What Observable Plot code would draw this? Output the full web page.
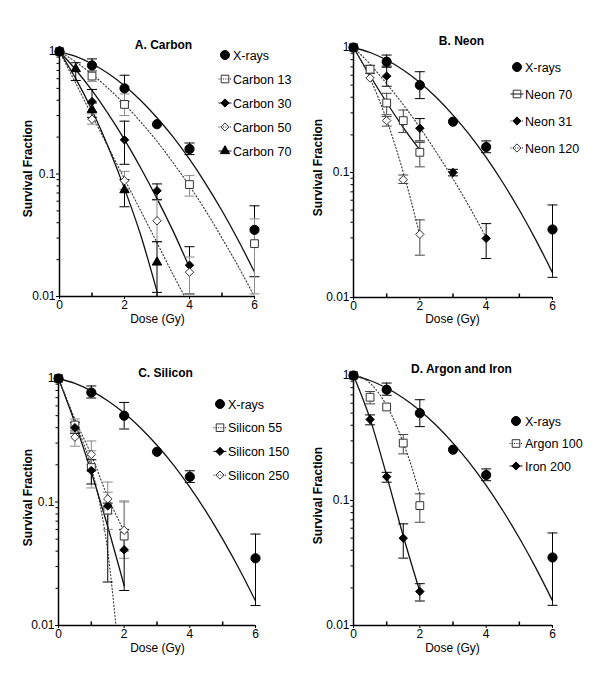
<!DOCTYPE html>
<html><head><meta charset="utf-8">
<script src="https://cdn.jsdelivr.net/npm/d3@7"></script>
<script src="https://cdn.jsdelivr.net/npm/@observablehq/plot@0.6"></script>
<style>
body{margin:0;background:#fff;font-family:Arial,"Liberation Sans",sans-serif;}
#wrap{position:relative;width:600px;height:673px;background:#fff;}
.panel{position:absolute;}
</style></head><body><div id="wrap"></div>
<script>
// ---------- shared tick labels ----------
const yTicks = [1, 0.1, 0.01];
const yTickLabels = ["1", "0.1", "0.01"];
const yMinorTicks = [0.02,0.03,0.04,0.05,0.06,0.07,0.08,0.09,0.2,0.3,0.4,0.5,0.6,0.7,0.8,0.9];
const xTicks = [0, 2, 4, 6];
const xMinorTicks = [1, 3, 5];

// ---------- X-rays (all panels) ----------
const xrayDose = [0, 1, 2, 3, 4, 6];
const xraySF   = [1, 0.77, 0.50, 0.255, 0.16, 0.035];
const xrayHi   = [null, 0.87, 0.64, null, 0.179, 0.055];
const xrayLo   = [null, 0.695, 0.39, null, 0.144, 0.0145];
const xrayFitDose = [0,0.5,1,1.5,2,2.5,3,3.5,4,4.5,5,5.5,6];
const xrayFitSF   = [1,0.912,0.794,0.661,0.525,0.398,0.288,0.20,0.132,0.0832,0.0501,0.0288,0.0158];

// ---------- A. Carbon ----------
const c13Dose = [0, 1, 2, 4, 6];
const c13SF   = [1, 0.63, 0.37, 0.082, 0.027];
const c13Hi   = [null, 0.70, 0.45, 0.097, 0.043];
const c13Lo   = [null, 0.57, 0.30, 0.066, 0.0105];
const c13FitDose = [0,0.5,1,1.5,2,2.5,3,3.5,4,4.5,5,5.5,6];
const c13FitSF   = [1,0.822,0.652,0.50,0.372,0.266,0.185,0.123,0.080,0.050,0.030,0.0176,0.01];

const c30Dose = [0, 1, 2, 3, 4];
const c30SF   = [1, 0.39, 0.19, 0.073, 0.018];
const c30Hi   = [null, 0.49, 0.27, 0.083, 0.0255];
const c30Lo   = [null, 0.32, 0.12, 0.062, 0.0105];
const c30FitDose = [0,0.5,1,1.5,2,2.5,3,3.5,4];
const c30FitSF   = [1,0.71,0.481,0.31,0.191,0.112,0.063,0.034,0.0172];

const c50Dose = [0, 1, 2, 3, 4];
const c50SF   = [1, 0.28, 0.088, 0.0415, 0.0158];
const c50Hi   = [null, 0.31, 0.105, 0.061, 0.021];
const c50Lo   = [null, 0.255, 0.075, 0.028, 0.0105];
const c50FitDose = [0,0.5,1,1.5,2,2.5,3,3.5,3.85];
const c50FitSF   = [1,0.55,0.30,0.166,0.091,0.050,0.0275,0.015,0.01];

const c70Dose = [0, 0.5, 1, 2, 3];
const c70SF   = [1, 0.72, 0.335, 0.074, 0.019];
const c70Hi   = [null, 0.81, 0.38, 0.09, 0.028];
const c70Lo   = [null, 0.58, 0.29, 0.054, 0.0108];
const c70FitDose = [0,0.5,1,1.5,2,2.5,3];
const c70FitSF   = [1,0.60,0.331,0.166,0.076,0.0316,0.011];

// ---------- B. Neon ----------
const n70Dose = [0, 0.5, 1, 1.5, 2];
const n70SF   = [1, 0.67, 0.36, 0.26, 0.145];
const n70Hi   = [null, 0.72, 0.43, 0.316, 0.174];
const n70Lo   = [null, 0.62, 0.29, 0.209, 0.111];
const n70FitDose = [0,0.5,1,1.5,2];
const n70FitSF   = [1,0.594,0.363,0.229,0.152];

const n31Dose = [0, 1, 2, 3, 4];
const n31SF   = [1, 0.59, 0.226, 0.10, 0.0297];
const n31Hi   = [null, 0.71, 0.27, 0.106, 0.039];
const n31Lo   = [null, 0.49, 0.179, 0.094, 0.0205];
const n31FitDose = [0,0.5,1,1.5,2,2.5,3,3.5,4];
const n31FitSF   = [1,0.735,0.513,0.349,0.229,0.145,0.089,0.0528,0.0302];

const n120Dose = [0, 0.5, 1, 1.5, 2];
const n120SF   = [1, 0.57, 0.26, 0.0875, 0.032];
const n120Hi   = [null, null, 0.28, 0.0955, 0.0418];
const n120Lo   = [null, null, 0.235, 0.0817, 0.0218];
const n120FitDose = [0,0.5,1,1.5,2];
const n120FitSF   = [1,0.566,0.263,0.1006,0.0316];

// ---------- C. Silicon ----------
const si55Dose = [0, 0.5, 1, 1.5, 2];
const si55SF   = [1, 0.42, 0.19, 0.086, 0.053];
const si55Hi   = [null, 0.47, 0.26, 0.12, 0.10];
const si55Lo   = [null, 0.37, 0.13, 0.06, 0.035];
const si55FitDose = [0,0.5,1,1.25,1.5,1.75];
const si55FitSF   = [1,0.45,0.19,0.10,0.04,0.01];

const si150Dose = [0, 0.5, 1, 1.5, 2];
const si150SF   = [1, 0.40, 0.18, 0.093, 0.041];
const si150Hi   = [null, 0.44, 0.22, 0.098, 0.06];
const si150Lo   = [null, 0.36, 0.14, 0.0225, 0.0192];
const si150FitDose = [0,0.5,1,1.5,2];
const si150FitSF   = [1,0.437,0.174,0.063,0.021];

const si250Dose = [0, 0.5, 1, 1.5, 2];
const si250SF   = [1, 0.335, 0.243, 0.106, 0.059];
const si250Hi   = [null, 0.38, 0.312, 0.145, 0.102];
const si250Lo   = [null, 0.283, 0.20, 0.08, 0.04];
const si250FitDose = [0,0.5,1,1.5,2];
const si250FitSF   = [1,0.47,0.24,0.11,0.058];

// ---------- D. Argon and Iron ----------
const ar100Dose = [0, 0.5, 1, 1.5, 2];
const ar100SF   = [1, 0.67, 0.56, 0.288, 0.091];
const ar100Hi   = [null, 0.745, null, 0.337, 0.113];
const ar100Lo   = [null, 0.593, null, 0.236, 0.067];
const ar100FitDose = [0,0.25,0.5,0.75,1,1.25,1.5,1.75,2];
const ar100FitSF   = [1,0.964,0.87,0.73,0.575,0.423,0.29,0.187,0.112];

const fe200Dose = [0, 0.5, 1, 1.5, 2];
const fe200SF   = [1, 0.445, 0.155, 0.05, 0.0187];
const fe200Hi   = [null, 0.484, 0.168, 0.065, 0.0216];
const fe200Lo   = [null, 0.403, 0.14, 0.0346, 0.0157];
const fe200FitDose = [0,0.5,1,1.5,2];
const fe200FitSF   = [1,0.45,0.158,0.052,0.0187];

// ---------- labels ----------
const panelTitles = ["A. Carbon", "B. Neon", "C. Silicon", "D. Argon and Iron"];
const legendA = ["X-rays", "Carbon 13", "Carbon 30", "Carbon 50", "Carbon 70"];
const legendB = ["X-rays", "Neon 70", "Neon 31", "Neon 120"];
const legendC = ["X-rays", "Silicon 55", "Silicon 150", "Silicon 250"];
const legendD = ["X-rays", "Argon 100", "Iron 200"];
const xLabel = "Dose (Gy)";
const yLabel = "Survival Fraction";

// ---------- drawing ----------
const FONT = "Arial, 'Liberation Sans', sans-serif";
const hline = {draw(ctx, size){const r = Math.sqrt(size/Math.PI); ctx.moveTo(-r,0); ctx.lineTo(r,0);}};
const vline = {draw(ctx, size){const r = Math.sqrt(size/Math.PI); ctx.moveTo(0,-r); ctx.lineTo(0,r);}};
const SYM = {circle: d3.symbolCircle, square: d3.symbolSquare, diamond2: d3.symbolDiamond2, triangle: d3.symbolTriangle};
const GRAY = "#8a8a8a";

function S(name, dose, sf, hi, lo, fitDose, fitSF, o) {
  return Object.assign({name, dose, sf, hi, lo, fitDose, fitSF}, o);
}

function buildPanel(cfg) {
  const {ml, mr, mt, mb} = cfg;
  const W = 300, H = 330;
  const marks = [];
  // fitted curves
  for (const s of cfg.series) {
    const rows = s.fitDose.map((d, i) => ({d, s: s.fitSF[i]}));
    marks.push(Plot.line(rows, {x: "d", y: "s", curve: "monotone-x", stroke: s.dotted ? "#333" : "#111",
      strokeWidth: s.dotted ? 1.1 : 1.3, strokeDasharray: s.dotted ? "1.2,2.2" : null}));
  }
  // axis lines
  marks.push(Plot.ruleX([0], {stroke: "black", strokeWidth: 1.5}));
  marks.push(Plot.ruleY([0.01], {stroke: "black", strokeWidth: 1.5}));
  // error bars
  for (const s of cfg.series) {
    const rows = s.dose.map((d, i) => ({d, hi: s.hi[i], lo: s.lo[i]})).filter(r => r.hi != null);
    const caps = rows.flatMap(r => [{d: r.d, v: r.hi}, {d: r.d, v: r.lo}]);
    marks.push(Plot.ruleX(rows, {x: "d", y1: "lo", y2: "hi", stroke: s.err, strokeWidth: 1}));
    marks.push(Plot.dot(caps, {x: "d", y: "v", symbol: hline, r: 5, stroke: s.err, fill: "none", strokeWidth: 1}));
  }
  // points (X-rays drawn last so the filled circle sits on top at dose 0)
  for (const s of [...cfg.series.slice(1), cfg.series[0]]) {
    const rows = s.dose.map((d, i) => ({d, v: s.sf[i]}));
    marks.push(Plot.dot(rows, {x: "d", y: "v", symbol: s.symbol, r: s.r,
      fill: s.filled ? "black" : "white", stroke: s.filled ? "black" : "#333", strokeWidth: 1}));
  }
  // axes
  marks.push(Plot.axisY(yTicks, {tickSize: 3, tickPadding: 1, fontSize: 12, label: null,
    tickFormat: d => yTickLabels[yTicks.indexOf(d)]}));
  marks.push(Plot.axisY(yMinorTicks, {tickSize: 2.5, tickFormat: () => "", label: null}));
  marks.push(Plot.axisX(xTicks, {tickSize: 3, tickPadding: 1, fontSize: 12, label: null}));
  marks.push(Plot.dot(xMinorTicks, {x: d => d, frameAnchor: "bottom", symbol: vline, r: 2, dy: -2, stroke: "black"}));
  // texts
  marks.push(Plot.text([cfg.title], {text: d => d, frameAnchor: "top-left", dx: cfg.titleX - ml, dy: cfg.titleY - mt,
    textAnchor: "middle", lineAnchor: "middle", fontWeight: "bold", fontSize: 12}));
  marks.push(Plot.text([yLabel], {text: d => d, frameAnchor: "top-left", dx: cfg.ylabX - ml, dy: cfg.ylabY - mt,
    rotate: -90, textAnchor: "middle", lineAnchor: "middle", fontWeight: "bold", fontSize: 12}));
  marks.push(Plot.text([xLabel], {text: d => d, frameAnchor: "top-left", dx: cfg.xlabX - ml, dy: cfg.xlabY - mt,
    textAnchor: "middle", lineAnchor: "middle", fontSize: 12}));

  const svg = Plot.plot({
    width: W, height: H, marginLeft: ml, marginRight: mr, marginTop: mt, marginBottom: mb,
    x: {domain: [0, 6]},
    y: {type: "log", domain: [0.01, 1]},
    style: {fontFamily: FONT, fontSize: "12px", color: "black", background: "white", overflow: "visible"},
    marks
  });

  // legend
  const g = d3.select(svg).append("g");
  cfg.series.forEach((s, i) => {
    const y = cfg.legY + i * cfg.legGap;
    const mx = cfg.legMX;
    if (s.legendLine) {
      g.append("line").attr("x1", mx - 6.5).attr("x2", mx + 6.5).attr("y1", y).attr("y2", y)
        .attr("stroke", "#111").attr("stroke-width", 1).attr("stroke-dasharray", s.dotted ? "1,1.3" : null);
    }
    g.append("path").attr("transform", `translate(${mx},${y})`)
      .attr("d", d3.symbol(SYM[s.symbol], Math.PI * s.r * s.r * 0.95)())
      .attr("fill", s.filled ? "black" : (s.legendLine ? "none" : "white"))
      .attr("stroke", s.filled ? "black" : "#333").attr("stroke-width", 1);
    g.append("text").attr("x", cfg.legTX).attr("y", y).attr("dy", "0.36em")
      .attr("text-anchor", "start")
      .attr("font-size", 12.5).attr("font-family", FONT).attr("fill", "black").text(s.name);
  });

  const div = document.createElement("div");
  div.className = "panel";
  div.style.left = cfg.left + "px";
  div.style.top = cfg.top + "px";
  div.appendChild(svg);
  document.getElementById("wrap").appendChild(div);
}

const xray = (lbl) => S(lbl, xrayDose, xraySF, xrayHi, xrayLo, xrayFitDose, xrayFitSF,
  {symbol: "circle", r: 4.6, filled: true, err: "black", dotted: false, legendLine: false});

buildPanel({
  left: 0, top: 0, ml: 59, mr: 46, mt: 51, mb: 34, title: panelTitles[0],
  titleX: 163, titleY: 45, ylabX: 28, ylabY: 168, xlabX: 157, xlabY: 319,
  legMX: 225, legTX: 233, legY: 55, legGap: 24,
  series: [
    xray(legendA[0]),
    S(legendA[1], c13Dose, c13SF, c13Hi, c13Lo, c13FitDose, c13FitSF, {symbol: "square", r: 4.4, filled: false, err: GRAY, dotted: true, legendLine: true}),
    S(legendA[2], c30Dose, c30SF, c30Hi, c30Lo, c30FitDose, c30FitSF, {symbol: "diamond2", r: 3.8, filled: true, err: "black", dotted: false, legendLine: true}),
    S(legendA[3], c50Dose, c50SF, c50Hi, c50Lo, c50FitDose, c50FitSF, {symbol: "diamond2", r: 3.8, filled: false, err: GRAY, dotted: true, legendLine: true}),
    S(legendA[4], c70Dose, c70SF, c70Hi, c70Lo, c70FitDose, c70FitSF, {symbol: "triangle", r: 3.5, filled: true, err: "black", dotted: false, legendLine: true})
  ]
});

buildPanel({
  left: 300, top: 0, ml: 53, mr: 48, mt: 47, mb: 33, title: panelTitles[1],
  titleX: 161, titleY: 41, ylabX: 18, ylabY: 167, xlabX: 152, xlabY: 319,
  legMX: 217, legTX: 225, legY: 67, legGap: 27,
  series: [
    xray(legendB[0]),
    S(legendB[1], n70Dose, n70SF, n70Hi, n70Lo, n70FitDose, n70FitSF, {symbol: "square", r: 4.4, filled: false, err: "#444", dotted: false, legendLine: true}),
    S(legendB[2], n31Dose, n31SF, n31Hi, n31Lo, n31FitDose, n31FitSF, {symbol: "diamond2", r: 3.8, filled: true, err: "black", dotted: true, legendLine: true}),
    S(legendB[3], n120Dose, n120SF, n120Hi, n120Lo, n120FitDose, n120FitSF, {symbol: "diamond2", r: 3.8, filled: false, err: "#444", dotted: true, legendLine: true})
  ]
});

buildPanel({
  left: 0, top: 330, ml: 58, mr: 45, mt: 48, mb: 35, title: panelTitles[2],
  titleX: 165, titleY: 43, ylabX: 28, ylabY: 167, xlabX: 157, xlabY: 318,
  legMX: 220, legTX: 228, legY: 74, legGap: 23.7,
  series: [
    xray(legendC[0]),
    S(legendC[1], si55Dose, si55SF, si55Hi, si55Lo, si55FitDose, si55FitSF, {symbol: "square", r: 4.4, filled: false, err: GRAY, dotted: true, legendLine: true}),
    S(legendC[2], si150Dose, si150SF, si150Hi, si150Lo, si150FitDose, si150FitSF, {symbol: "diamond2", r: 3.8, filled: true, err: "black", dotted: false, legendLine: true}),
    S(legendC[3], si250Dose, si250SF, si250Hi, si250Lo, si250FitDose, si250FitSF, {symbol: "diamond2", r: 3.8, filled: false, err: GRAY, dotted: true, legendLine: true})
  ]
});

buildPanel({
  left: 300, top: 330, ml: 53, mr: 48, mt: 45, mb: 35, title: panelTitles[3],
  titleX: 161, titleY: 39, ylabX: 18, ylabY: 165, xlabX: 152, xlabY: 318,
  legMX: 216, legTX: 225, legY: 91, legGap: 22.5,
  series: [
    xray(legendD[0]),
    S(legendD[1], ar100Dose, ar100SF, ar100Hi, ar100Lo, ar100FitDose, ar100FitSF, {symbol: "square", r: 4.4, filled: false, err: "#444", dotted: true, legendLine: true}),
    S(legendD[2], fe200Dose, fe200SF, fe200Hi, fe200Lo, fe200FitDose, fe200FitSF, {symbol: "diamond2", r: 3.8, filled: true, err: "black", dotted: false, legendLine: true})
  ]
});
</script></body></html>
